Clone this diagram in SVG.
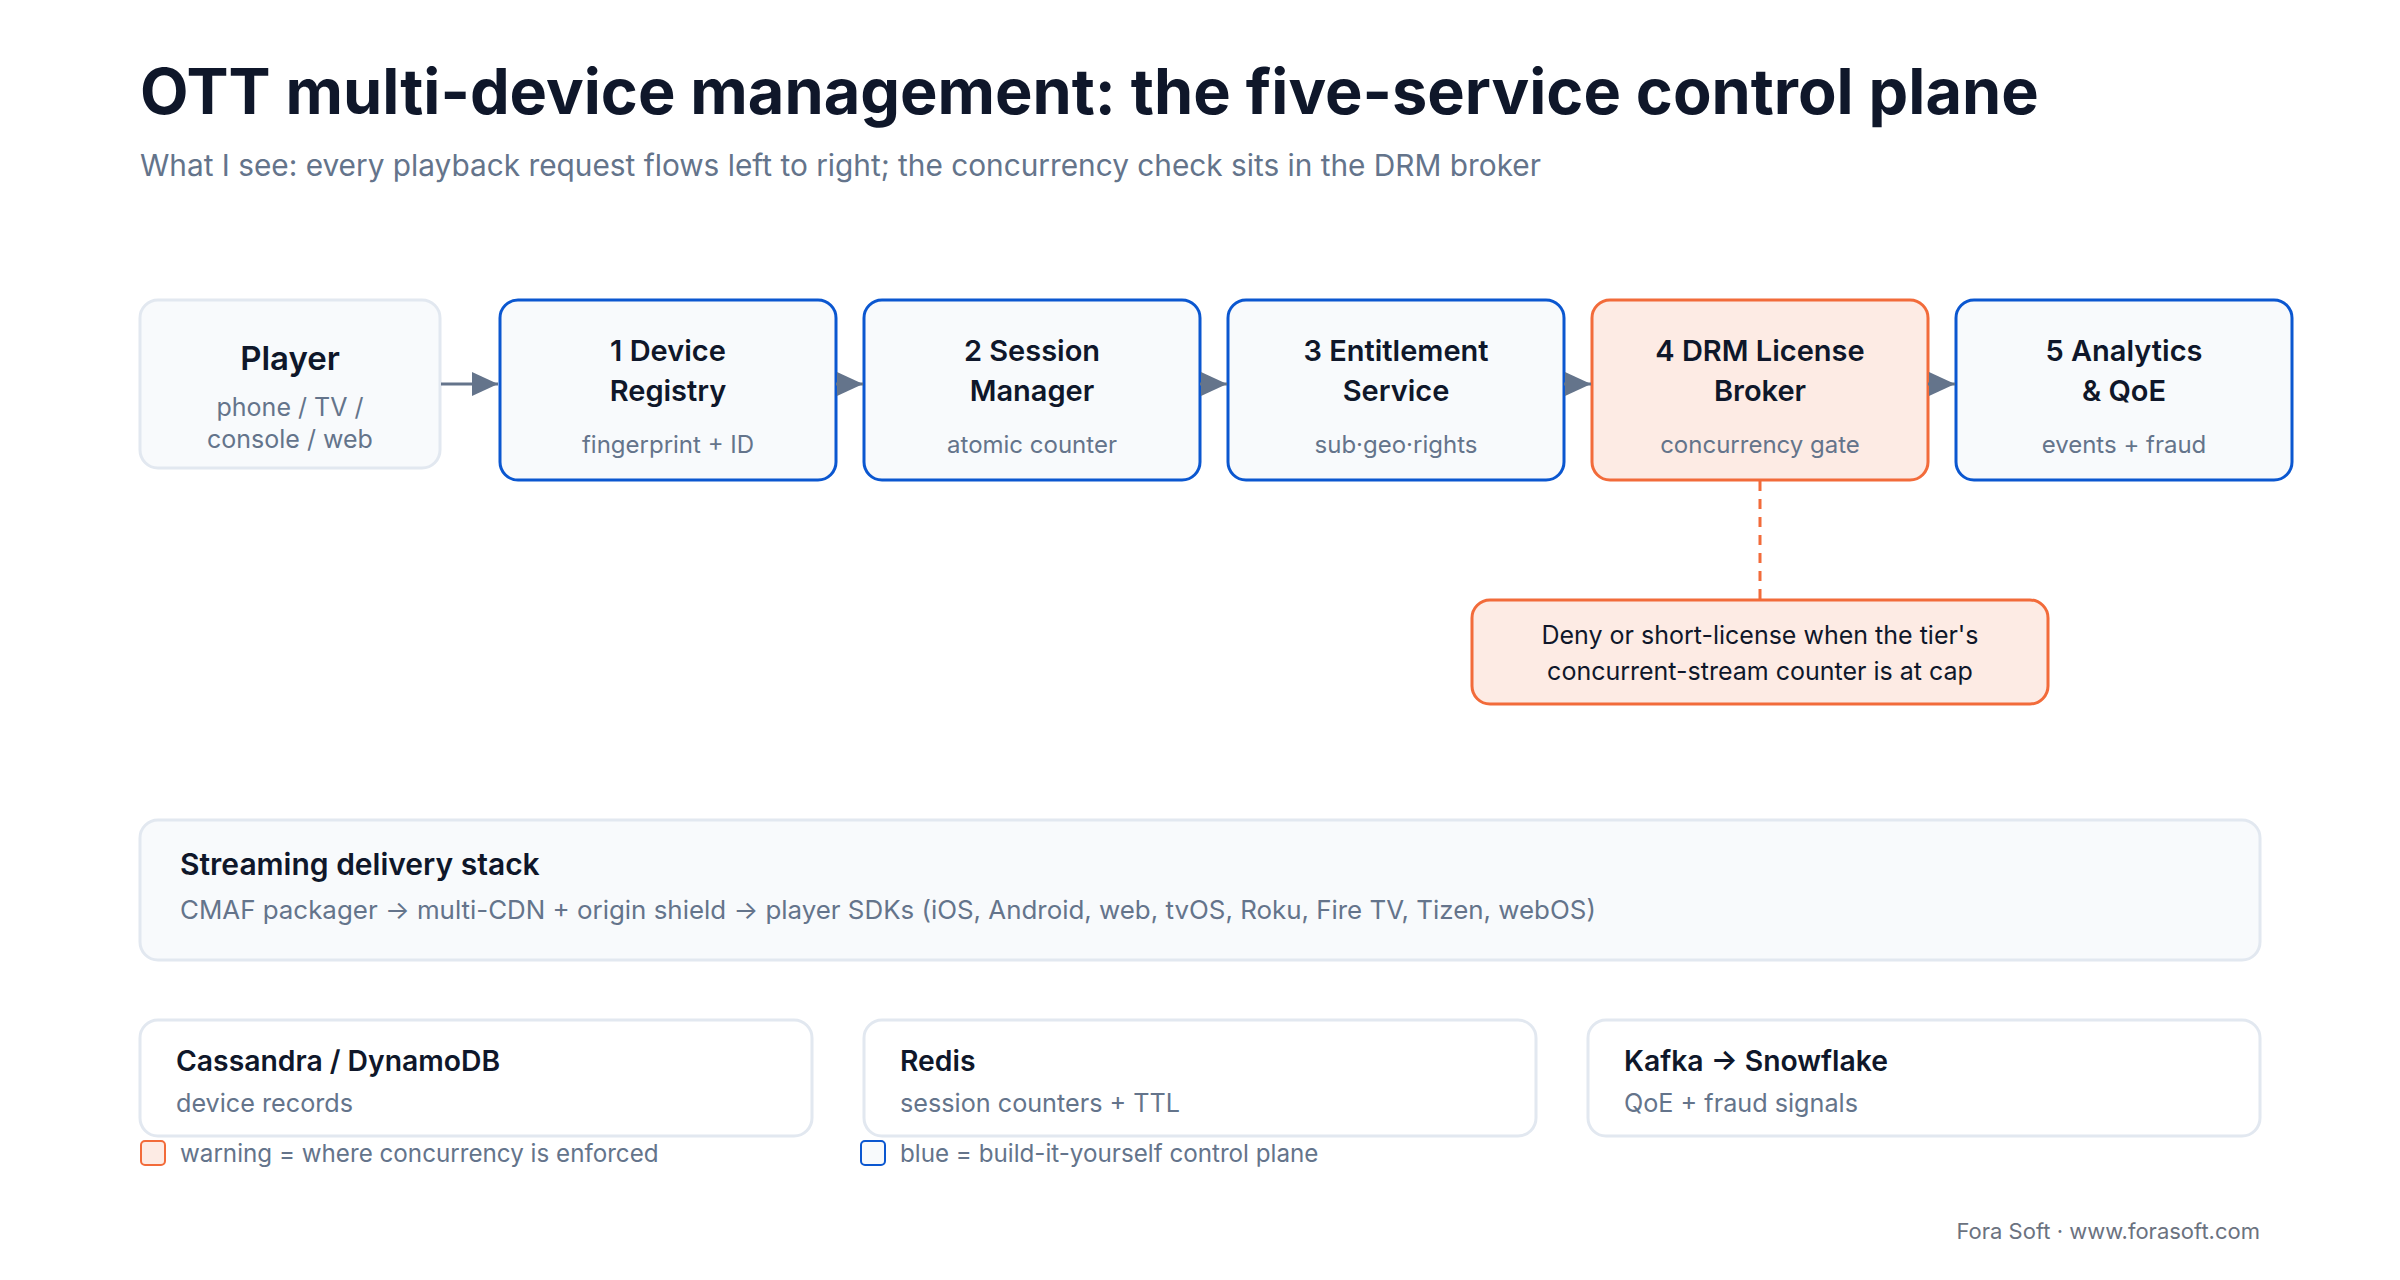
<svg xmlns="http://www.w3.org/2000/svg" width="2400" height="1280" viewBox="0 0 2400 1280">
<defs>
<marker id="arr" viewBox="0 0 26 24" refX="26" refY="12" markerWidth="26" markerHeight="24" markerUnits="userSpaceOnUse" orient="auto">
<path d="M0,0 L26,12 L0,24 Z" fill="#64748b"/>
</marker>
<style>
text{font-family:Inter,"Noto Sans","Liberation Sans",sans-serif}
.title{font-size:63px;font-weight:700;fill:#0f172a}
.sub{font-size:29.8px;fill:#64748b}
.nt{font-size:29px;font-weight:600;fill:#0f172a;text-anchor:middle}
.ns{font-size:24px;fill:#64748b;text-anchor:middle}
.svc{fill:#f8fafc;stroke:#0b57d0;stroke-width:3}
.warn{fill:#fdebe4;stroke:#f26b3a;stroke-width:3}
.neutral{fill:#f8fafc;stroke:#e2e8f0;stroke-width:3}
.plain{fill:#ffffff;stroke:#e2e8f0;stroke-width:3}
.bt{font-size:28.3px;font-weight:600;fill:#0f172a}
.bs{font-size:25.2px;fill:#64748b}
.ct{font-size:25px;fill:#0f172a;text-anchor:middle}
.lg{font-size:24.2px;fill:#64748b}
.conn{stroke:#64748b;stroke-width:3;fill:none}
</style>
</defs>
<rect width="2400" height="1280" fill="#ffffff"/>
<text class="title" x="140" y="114">OTT multi-device management: the five-service control plane</text>
<text class="sub" x="140" y="176">What I see: every playback request flows left to right; the concurrency check sits in the DRM broker</text>

<g id="player">
<rect class="neutral" x="140" y="300" width="300" height="168" rx="18"/>
<text class="nt" x="290" y="370" style="font-size:33px">Player</text>
<text class="ns" x="290" y="416" style="font-size:25px">phone / TV /</text>
<text class="ns" x="290" y="448" style="font-size:25px">console / web</text>
</g>
<g id="device-registry">
<rect class="svc" x="500" y="300" width="336" height="180" rx="18"/>
<text class="nt" x="668" y="361">1 Device</text>
<text class="nt" x="668" y="401">Registry</text>
<text class="ns" x="668" y="453">fingerprint + ID</text>
</g>
<g id="session-manager">
<rect class="svc" x="864" y="300" width="336" height="180" rx="18"/>
<text class="nt" x="1032" y="361">2 Session</text>
<text class="nt" x="1032" y="401">Manager</text>
<text class="ns" x="1032" y="453">atomic counter</text>
</g>
<g id="entitlement-service">
<rect class="svc" x="1228" y="300" width="336" height="180" rx="18"/>
<text class="nt" x="1396" y="361">3 Entitlement</text>
<text class="nt" x="1396" y="401">Service</text>
<text class="ns" x="1396" y="453">sub·geo·rights</text>
</g>
<g id="drm-broker">
<rect class="warn" x="1592" y="300" width="336" height="180" rx="18"/>
<text class="nt" x="1760" y="361">4 DRM License</text>
<text class="nt" x="1760" y="401">Broker</text>
<text class="ns" x="1760" y="453">concurrency gate</text>
</g>
<g id="analytics">
<rect class="svc" x="1956" y="300" width="336" height="180" rx="18"/>
<text class="nt" x="2124" y="361">5 Analytics</text>
<text class="nt" x="2124" y="401">&amp; QoE</text>
<text class="ns" x="2124" y="453">events + fraud</text>
</g>
<g id="callout">
<rect class="warn" x="1472" y="600" width="576" height="104" rx="18"/>
<text class="ct" x="1760" y="644">Deny or short-license when the tier's</text>
<text class="ct" x="1760" y="680">concurrent-stream counter is at cap</text>
</g>

<g id="connectors">
<line class="conn" x1="441" y1="384" x2="498" y2="384" marker-end="url(#arr)"/>
<line class="conn" x1="836" y1="384" x2="863" y2="384" marker-end="url(#arr)"/>
<line class="conn" x1="1200" y1="384" x2="1227" y2="384" marker-end="url(#arr)"/>
<line class="conn" x1="1564" y1="384" x2="1591" y2="384" marker-end="url(#arr)"/>
<line class="conn" x1="1928" y1="384" x2="1955" y2="384" marker-end="url(#arr)"/>
<line x1="1760" y1="481" x2="1760" y2="599" stroke="#f26b3a" stroke-width="3" stroke-dasharray="10 8"/>
</g>

<g id="delivery-stack">
<rect class="neutral" x="140" y="820" width="2120" height="140" rx="18"/>
<text class="bt" x="180" y="875" style="font-size:30px">Streaming delivery stack</text>
<text class="bs" x="180" y="919" style="font-size:25.9px">CMAF packager → multi-CDN + origin shield → player SDKs (iOS, Android, web, tvOS, Roku, Fire TV, Tizen, webOS)</text>
</g>
<g id="cassandra">
<rect class="plain" x="140" y="1020" width="672" height="116" rx="18"/>
<text class="bt" x="176" y="1071">Cassandra / DynamoDB</text>
<text class="bs" x="176" y="1112">device records</text>
</g>
<g id="redis">
<rect class="plain" x="864" y="1020" width="672" height="116" rx="18"/>
<text class="bt" x="900" y="1071">Redis</text>
<text class="bs" x="900" y="1112">session counters + TTL</text>
</g>
<g id="kafka">
<rect class="plain" x="1588" y="1020" width="672" height="116" rx="18"/>
<text class="bt" x="1624" y="1071">Kafka → Snowflake</text>
<text class="bs" x="1624" y="1112">QoE + fraud signals</text>
</g>
<g id="legend">
<rect x="141" y="1141" width="24" height="24" rx="4" fill="#fdebe4" stroke="#f26b3a" stroke-width="2"/>
<text class="lg" x="180" y="1162">warning = where concurrency is enforced</text>
<rect x="861" y="1141" width="24" height="24" rx="4" fill="#f8fafc" stroke="#0b57d0" stroke-width="2"/>
<text class="lg" x="900" y="1162">blue = build-it-yourself control plane</text>
</g>
<text x="2260" y="1239" text-anchor="end" style="font-size:22px;fill:#6b7280">Fora Soft · www.forasoft.com</text>
</svg>
